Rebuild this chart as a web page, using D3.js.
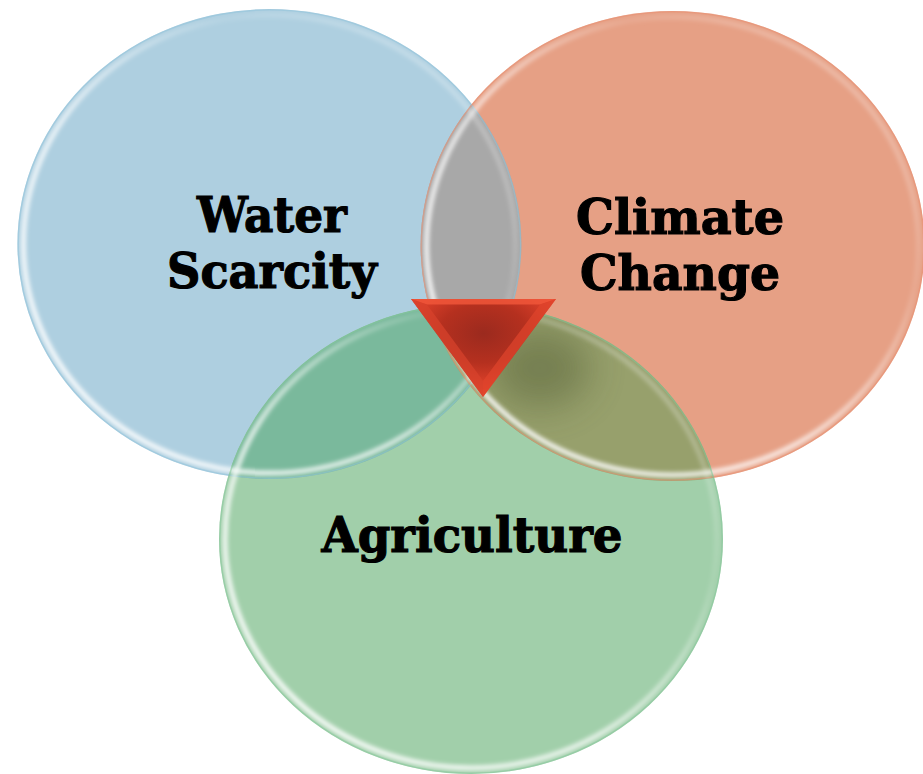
<!DOCTYPE html>
<html>
<head>
<meta charset="utf-8">
<script src="https://cdn.jsdelivr.net/npm/d3@7"></script>
<style>
  html, body { margin: 0; padding: 0; background: #fff; }
  svg { display: block; }
</style>
</head>
<body>
<div id="container"></div>
<script>
// sets of the diagram, label lines, and centres in unit coordinates
const sets = ["Water Scarcity", "Climate Change", "Agriculture"]
const labelLines = [["Water", "Scarcity"], ["Climate", "Change"], ["Agriculture"]]
const centerU = [-0.8, 0.8, 0]
const centerV = [-1.255, -1.247, 0]
const fills = ["#aecfe0", "#e6a085", "#a1cfaa"]
const rims = ["#8fc3dc", "#e98f72", "#86c79b"]
// overlaps: [setA, setB, colour]
const overlaps = [[0, 1, "#a8a8a8"], [0, 2, "#7ab99c"], [1, 2, "#97a06c"]]

const width = 923, height = 774

const svg = d3.select("#container").append("svg")
    .attr("width", width)
    .attr("height", height)

const x = d3.scaleLinear().domain([-1, 1]).range([219, 723])
const y = d3.scaleLinear().domain([-1, 1]).range([304, 774])
const rx = x(1) - x(0), ry = y(1) - y(0)

const defs = svg.append("defs")

sets.forEach((s, i) => {
    defs.append("clipPath").attr("id", "clip" + i)
        .append("ellipse")
        .attr("cx", x(centerU[i])).attr("cy", y(centerV[i]))
        .attr("rx", rx).attr("ry", ry)

    // white rim highlight, strongest at lower left
    const g = defs.append("linearGradient").attr("id", "rim" + i)
        .attr("x1", 0).attr("y1", 1).attr("x2", 1).attr("y2", 0)
    g.append("stop").attr("offset", "0%").attr("stop-color", "#fff").attr("stop-opacity", 1)
    g.append("stop").attr("offset", "40%").attr("stop-color", "#fff").attr("stop-opacity", 0.75)
    g.append("stop").attr("offset", "70%").attr("stop-color", "#fff").attr("stop-opacity", 0.1)
    g.append("stop").attr("offset", "100%").attr("stop-color", "#fff").attr("stop-opacity", 0.45)
})

const blur = defs.append("filter").attr("id", "blur").attr("x", "-50%").attr("y", "-50%")
    .attr("width", "200%").attr("height", "200%")
blur.append("feGaussianBlur").attr("stdDeviation", 2.2)

const softBlur = defs.append("filter").attr("id", "soft").attr("x", "-50%").attr("y", "-50%")
    .attr("width", "200%").attr("height", "200%")
softBlur.append("feGaussianBlur").attr("stdDeviation", 18)

function ellipse(sel, i, inset) {
    return sel.append("ellipse")
        .attr("cx", x(centerU[i])).attr("cy", y(centerV[i]))
        .attr("rx", rx - inset).attr("ry", ry - inset)
}

// base circles
sets.forEach((s, i) => {
    ellipse(svg, i, 0).attr("fill", fills[i])
})

// overlap regions
overlaps.forEach(([a, b, c]) => {
    const g = svg.append("g").attr("clip-path", "url(#clip" + a + ")")
    ellipse(g, b, 0).attr("fill", c)
})

// dark shading near the middle of the green/orange overlap
const shade = svg.append("g").attr("clip-path", "url(#clip1)")
    .append("g").attr("clip-path", "url(#clip2)")
shade.append("ellipse")
    .attr("cx", 540).attr("cy", 368).attr("rx", 50).attr("ry", 40)
    .attr("fill", "#4f5a33").attr("opacity", 0.45)
    .attr("filter", "url(#soft)")

// rims
sets.forEach((s, i) => {
    const g = svg.append("g").attr("clip-path", "url(#clip" + i + ")")
    ellipse(g, i, 6).attr("fill", "none")
        .attr("stroke", "url(#rim" + i + ")")
        .attr("stroke-width", 5)
        .attr("filter", "url(#blur)")
    ellipse(svg, i, 0.8).attr("fill", "none")
        .attr("stroke", rims[i]).attr("stroke-width", 1.4).attr("opacity", 0.5)
})

// labels
const labels = svg.append("g")
    .attr("font-family", "'DejaVu Serif', serif")
    .attr("font-weight", "bold")
    .attr("font-size", 49)
    .attr("text-anchor", "middle")
    .attr("fill", "#000")
    .attr("stroke", "#000")
    .attr("stroke-width", 1.2)

const labelX = [272, 680, 472]
const labelY = [232, 234, 552]
const labelW = [[150, 210], [208, 200], [301]]
labelLines.forEach((lines, i) => {
    lines.forEach((t, j) => {
        labels.append("text")
            .attr("x", labelX[i])
            .attr("y", labelY[i] + j * 56)
            .attr("textLength", labelW[i][j])
            .attr("lengthAdjust", "spacingAndGlyphs")
            .text(t)
    })
})

// red triangle marker in the middle
const tri = [[411, 299], [556, 299], [483, 397]]
const tg = defs.append("radialGradient").attr("id", "triGrad")
    .attr("cx", "50%").attr("cy", "35%").attr("r", "60%")
tg.append("stop").attr("offset", "0%").attr("stop-color", "#9b2a1e")
tg.append("stop").attr("offset", "50%").attr("stop-color", "#b5301f")
tg.append("stop").attr("offset", "100%").attr("stop-color", "#e8452d")

svg.append("path")
    .attr("d", d3.line()(tri) + "Z")
    .attr("fill", "url(#triGrad)")

// bevel faces
const cen = [(tri[0][0] + tri[1][0] + tri[2][0]) / 3, (tri[0][1] + tri[1][1] + tri[2][1]) / 3 - 8]
const faces = [[tri[0], tri[1], "#f0563a", 0.85], [tri[1], tri[2], "#e0452c", 0.7], [tri[2], tri[0], "#d9432c", 0.7]]
faces.forEach(([p, q, c, o]) => {
    const inner = [p, q, [q[0] + (cen[0] - q[0]) * 0.22, q[1] + (cen[1] - q[1]) * 0.22],
        [p[0] + (cen[0] - p[0]) * 0.22, p[1] + (cen[1] - p[1]) * 0.22]]
    svg.append("path")
        .attr("d", d3.line()(inner) + "Z")
        .attr("fill", c).attr("opacity", o)
})
</script>
</body>
</html>
